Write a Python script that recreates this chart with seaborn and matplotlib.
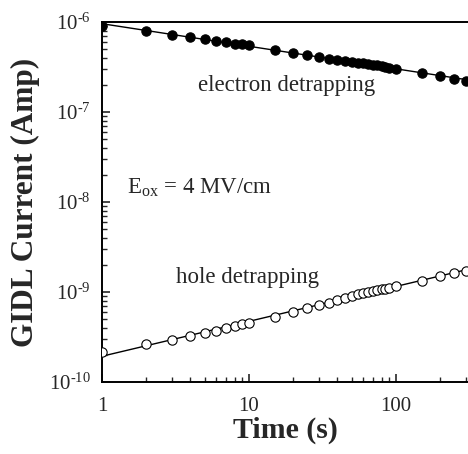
import numpy as np
import pandas as pd
import matplotlib
matplotlib.use("Agg")
import matplotlib.pyplot as plt
import seaborn as sns
from matplotlib.ticker import LogLocator, FuncFormatter, NullFormatter

# data
time_s = [1, 2, 3, 4, 5, 6, 7, 8, 9, 10, 15, 20, 25, 30, 35, 40, 45, 50, 55, 60,
          65, 70, 75, 80, 85, 90, 100, 150, 200, 250, 300]
electron_current = [9.09e-7, 7.94e-7, 7.17e-7, 6.76e-7, 6.43e-7, 6.20e-7, 5.95e-7,
                    5.74e-7, 5.65e-7, 5.51e-7, 4.89e-7, 4.49e-7, 4.26e-7, 4.05e-7,
                    3.91e-7, 3.78e-7, 3.69e-7, 3.62e-7, 3.53e-7, 3.48e-7, 3.41e-7,
                    3.35e-7, 3.30e-7, 3.24e-7, 3.16e-7, 3.06e-7, 2.98e-7, 2.69e-7,
                    2.49e-7, 2.35e-7, 2.23e-7]
hole_current = [2.17e-10, 2.62e-10, 2.93e-10, 3.25e-10, 3.48e-10, 3.72e-10, 3.95e-10,
                4.19e-10, 4.38e-10, 4.56e-10, 5.32e-10, 6.04e-10, 6.59e-10, 7.12e-10,
                7.64e-10, 8.05e-10, 8.51e-10, 9.03e-10, 9.43e-10, 9.82e-10, 1.01e-9,
                1.03e-9, 1.05e-9, 1.07e-9, 1.09e-9, 1.12e-9, 1.17e-9, 1.34e-9,
                1.51e-9, 1.61e-9, 1.73e-9]
y_ticks = [1e-10, 1e-9, 1e-8, 1e-7, 1e-6]
x_ticks = [1, 10, 100]
x_max = 310

sns.set_style("ticks")
plt.rcParams['font.family'] = ['Liberation Serif', 'DejaVu Serif']
plt.rcParams['mathtext.fontset'] = 'custom'
plt.rcParams['mathtext.rm'] = 'Liberation Serif'
plt.rcParams['mathtext.it'] = 'Liberation Serif:italic'
plt.rcParams['mathtext.bf'] = 'Liberation Serif:bold'
plt.rcParams['axes.unicode_minus'] = False

df = pd.DataFrame({'t': time_s, 'electron': electron_current, 'hole': hole_current})

# power-law fits (straight lines on log-log axes)
t_line = np.array([1, x_max])
fits = {}
for col in ['electron', 'hole']:
    k, b = np.polyfit(np.log10(df['t']), np.log10(df[col]), 1)
    fits[col] = 10 ** (b + k * np.log10(t_line))
fit_df = pd.DataFrame({'t': t_line, 'electron': fits['electron'], 'hole': fits['hole']})

fig = plt.figure(figsize=(4.68, 4.54), dpi=100)
ax = fig.add_axes([0.218, 0.1586, 0.782, 0.793])
ax.set_xscale('log')
ax.set_yscale('log')

sns.lineplot(data=fit_df, x='t', y='electron', ax=ax, color='black', lw=1.0, zorder=2)
sns.lineplot(data=fit_df, x='t', y='hole', ax=ax, color='black', lw=1.0, zorder=2)
sns.scatterplot(data=df, x='t', y='electron', ax=ax, s=45, color='black',
                edgecolor='black', linewidth=0.8, zorder=3)
sns.scatterplot(data=df, x='t', y='hole', ax=ax, s=45, facecolor='white',
                edgecolor='black', linewidth=0.8, zorder=3)


def sci_label(v, pos):
    e = int(round(np.log10(v)))
    return r'$10^{\text{%d}}$' % e


ax.set_yticks(y_ticks)
ax.yaxis.set_major_formatter(FuncFormatter(sci_label))
ax.yaxis.set_minor_locator(LogLocator(base=10, subs=np.arange(2, 10), numticks=20))
ax.yaxis.set_minor_formatter(NullFormatter())
ax.set_xticks(x_ticks)
ax.set_xticklabels([str(v) for v in x_ticks])
ax.xaxis.set_minor_locator(LogLocator(base=10, subs=np.arange(2, 10), numticks=20))
ax.xaxis.set_minor_formatter(NullFormatter())
ax.set_xlim(1, x_max)
ax.set_ylim(1e-10, 1e-6)

ax.tick_params(which='major', direction='in', length=6, width=1.2, labelsize=15)
ax.tick_params(which='minor', direction='in', length=3.5, width=1.0)
ax.tick_params(axis='y', which='major', pad=8)
ax.tick_params(axis='x', which='major', pad=11)
ax.tick_params(top=False, right=False, which='both')

for side in ['left', 'bottom', 'top']:
    ax.spines[side].set_linewidth(1.4)
    ax.spines[side].set_color('black')
ax.spines['right'].set_visible(False)

ax.set_xlabel('Time (s)', fontsize=21.5, fontweight='bold', labelpad=0)
ax.set_ylabel('GIDL Current (Amp)', fontsize=22.5, fontweight='bold')
ax.yaxis.set_label_coords(-0.17, 0.5)

ax.text(18, 1.95e-7, 'electron detrapping', fontsize=16.5, ha='center', va='center')
ax.text(1.47, 1.45e-8, r'E$_{\mathrm{ox}}$ = 4 MV/cm', fontsize=16.5, ha='left', va='center')
ax.text(9.8, 1.45e-9, 'hole detrapping', fontsize=16.5, ha='center', va='center')

fig.savefig('out.png', dpi=100)
